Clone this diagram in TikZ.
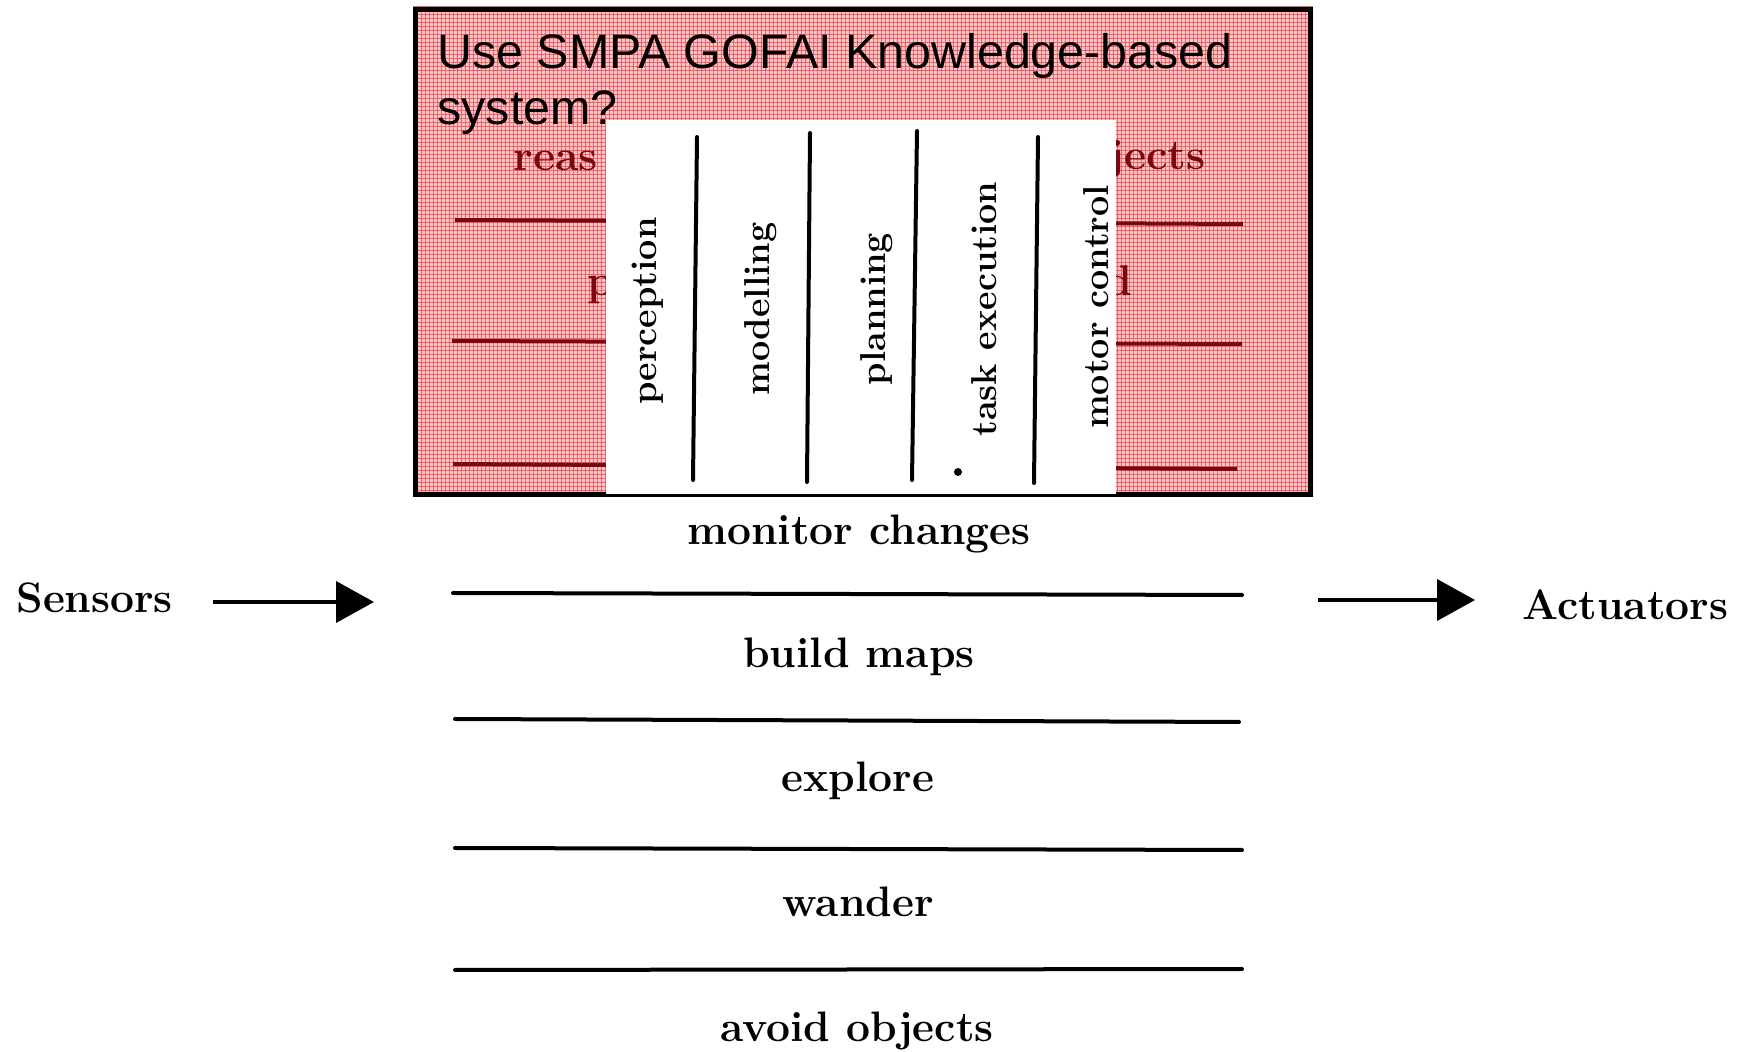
\documentclass[tikz,border=0pt]{standalone}
\usepackage{fontspec}
\newfontfamily\titlefont{Liberation Sans}
\usetikzlibrary{arrows.meta}
\definecolor{boxpink}{RGB}{252,200,202}
\definecolor{gridred}{RGB}{240,95,100}
\definecolor{inkred}{RGB}{125,5,15}
\tikzset{
  layer/.style={font=\bfseries\fontsize{21.3}{24}\selectfont, inner sep=0pt, anchor=base},
  column/.style={font=\bfseries\fontsize{18}{21}\selectfont, inner sep=0pt, rotate=90},
  faded/.style={font=\bfseries\fontsize{21.5}{24}\selectfont, inner sep=0pt, text=inkred},
  rule/.style={line width=2pt, line cap=round},
  fadedrule/.style={inkred, line width=2pt},
  flow/.style={line width=2pt, -{Triangle[length=19pt,width=20.5pt]}},
}
\begin{document}
\begin{tikzpicture}[x=0.5pt,y=-0.5pt]
\useasboundingbox[fill=white] (0,0) rectangle (1742,1052);

% pink halftone panel
\begin{scope}
  \clip (413,7) rectangle (1313,497);
  \fill[boxpink] (413,7) rectangle (1313,497);
  \foreach \i in {0,...,225} \draw[gridred, line width=0.5pt] (413+4*\i,7) -- ++(0,490);
  \foreach \j in {0,...,123} \draw[gridred, line width=0.5pt] (413,7+4*\j) -- ++(900,0);
\end{scope}

% layered control system behind the panel
\node[faded, anchor=base west] (reas) at (513,171) {reas};
\node[faded, anchor=base east] (jects) at (1206,170) {jects};
\node[faded, anchor=base west] (pfrag) at (587,296) {p};
\node[faded, anchor=base east] (dfrag) at (1133,296) {d};
\draw[fadedrule] (455,220) -- (1243,224);
\draw[fadedrule] (452,341) -- (1242,344);
\draw[fadedrule] (453,464) -- (1237,469);

% panel frame
\draw[line width=2.5pt] (415.5,9.5) rectangle (1310.5,494.5);

% functional decomposition card
\fill[white] (606,120) rectangle (1116,494);
\draw[rule] (697,137) -- (693,480);
\draw[rule] (810,133) -- (807,482);
\draw[rule] (917,131) -- (912,480);
\draw[rule] (1038,137) -- (1034,483);
\fill (958,472) circle (2pt);
\node[column] (perc) at (648,311) {perception};
\node[column] (model) at (761,309) {modelling};
\node[column] (plan) at (877,309) {planning};
\node[column] (task) at (984,309) {task execution};
\node[column] (motor) at (1096,307) {motor control};

% question (anchored on the baseline of its last line)
\node[font=\titlefont\fontsize{24.2}{28}\selectfont, align=left, anchor=base west, inner sep=0pt]
  (title) at (437,125) {Use SMPA GOFAI Knowledge-based\\system?};

% behaviour layers
\node[layer] (monitor) at (859,545) {monitor changes};
\draw[rule] (453,593) -- (1242,595);
\node[layer] (build) at (859,668) {build maps};
\draw[rule] (455,719) -- (1239,722);
\node[layer] (explore) at (858,792) {explore};
\draw[rule] (455,848) -- (1242,850);
\node[layer] (wander) at (858,917) {wander};
\draw[rule] (455,970) -- (1242,969);
\node[layer] (avoid) at (857,1042) {avoid objects};

% inputs and outputs
\node[layer, anchor=base west] (sensors) at (16,613) {Sensors};
\coordinate (sensorsfrom) at (213,602);
\coordinate (sensorsto) at (374,602);
\draw[flow] (sensorsfrom) -- (sensorsto);
\node[layer, anchor=base west] (actuators) at (1522,620) {Actuators};
\coordinate (actfrom) at (1318,600);
\coordinate (actto) at (1475,600);
\draw[flow] (actfrom) -- (actto);
\end{tikzpicture}
\end{document}
